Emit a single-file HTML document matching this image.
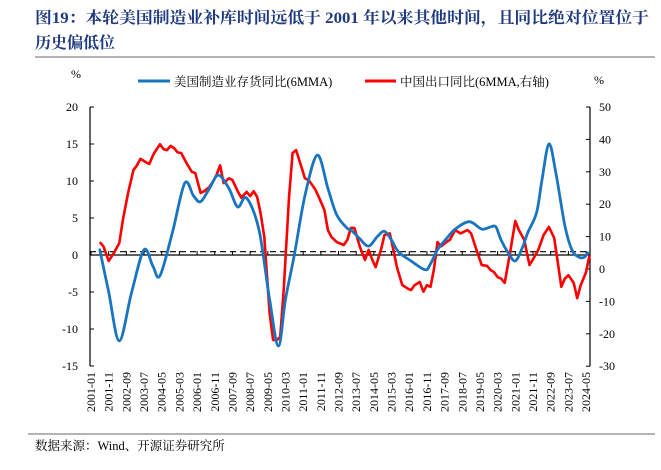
<!DOCTYPE html>
<html><head><meta charset="utf-8"><style>
body{margin:0;background:#fff;}
svg{display:block;font-family:"Liberation Serif","Noto Serif CJK SC",serif;}
</style></head><body>
<svg id="chart" width="661" height="470" viewBox="0 0 661 470" xmlns="http://www.w3.org/2000/svg">
<text x="35" y="23" font-size="16" font-weight="bold" fill="#1f3a80" textLength="614" lengthAdjust="spacingAndGlyphs">图19：本轮美国制造业补库时间远低于 2001 年以来其他时间，且同比绝对位置位于</text>
<text x="35" y="48" font-size="16" font-weight="bold" fill="#1f3a80">历史偏低位</text>
<line x1="35" y1="57" x2="655" y2="57" stroke="#888" stroke-width="1.2"/>
<text x="76" y="78" font-size="12" text-anchor="middle">%</text>
<text x="599" y="84" font-size="12" text-anchor="middle">%</text>
<g>
<line x1="138" y1="81" x2="170" y2="81" stroke="#1a75c0" stroke-width="3"/>
<text x="174" y="86" font-size="12.5">美国制造业存货同比(6MMA)</text>
<line x1="365" y1="81" x2="396" y2="81" stroke="#ff0000" stroke-width="3"/>
<text x="400" y="86" font-size="12.5">中国出口同比(6MMA,右轴)</text>
</g>
<g id="axes"></g>
<g id="series"></g>
<line x1="28" y1="434" x2="655" y2="434" stroke="#888" stroke-width="1.2"/>
<text x="35" y="450" font-size="12.5">数据来源：Wind、开源证券研究所</text>
</svg>
<script>
const leftTicks=[20,15,10,5,0,-5,-10,-15];
const rightTicks=[50,40,30,20,10,0,-10,-20,-30];
const xLabels=["2001-01","2001-11","2002-09","2003-07","2004-05","2005-03","2006-01","2006-11","2007-09","2008-07","2009-05","2010-03","2011-01","2011-11","2012-09","2013-07","2014-05","2015-03","2016-01","2016-11","2017-09","2018-07","2019-05","2020-03","2021-01","2021-11","2022-09","2023-07","2024-05"];
const usMonths=[5,10,16,23,30,35,39,46,53,58,62,67,72,78,83,88,95,101,106,110,115,121,128,134,139,145,147,152,157,162,166,170,174,181,189,192,196,201,206,214,221,226,229,232,236,240,244,247,252,255,259,263,268,272,276,279,281];
const usValues=[0.7,-5,-11.6,-5,0.7,-1.5,-2.8,3,9.7,8,7.2,9,10.8,9,6.5,7.7,3.4,-6,-12.3,-6,0,8,13.5,9,5.4,3.6,3.4,2.2,1.2,2.5,3.2,2,0.4,-0.8,-2.0,-1.2,0.7,2.2,3.5,4.5,3.5,3.8,3.8,2,0.3,-0.8,1,3.0,5.7,10,15.0,11,4,0.7,-0.3,-0.3,0.3];
const cnMonths=[5,7,10,13,16,18,21,24,26,28,31,33,35,36,39,41,43,45,47,49,51,54,57,59,62,64,67,69,71,73,75,78,80,83,85,88,90,92,94,96,98,101,103,105,107,109,112,114,116,119,121,123,125,127,129,132,134,136,139,143,145,147,149,152,155,157,159,161,164,166,169,171,173,176,179,181,183,186,188,190,192,194,196,198,201,203,206,209,211,213,215,218,221,224,226,228,230,232,234,237,240,242,245,248,250,253,256,259,262,264,266,268,270,273,275,277,280,282];
const cnValues=[8.3,7,2.5,5,8,15,23.5,30.5,32,34,33,32.4,35,36,38.5,37,36.7,38,37.3,36,35.8,32.7,30,29.6,23.5,24,25.3,27,29,32,26.5,28,27.5,24,22,23.8,22.5,24,22.2,17,9.9,-13.6,-21.9,-22,-21,-6.5,22,35.8,36.7,31.5,28,27.5,26,24.4,22,18.2,12,9.9,8.3,7.4,9,12.7,12.7,7,2.8,5.9,3,0.6,6,10.5,11,6,0.6,-4.9,-6,-6.5,-5,-4,-7,-5,-5.5,0,8.3,7,8.3,9,12,11,11.5,12,11,6,1.2,1,-0.3,-1,-2.5,-3,-4.3,4.9,14.8,12,9,1.2,3,5.9,10.5,13,9.6,2,-5.5,-3,-1.9,-4.3,-9,-5,-1,4.3];

const NS="http://www.w3.org/2000/svg";
const X0=91,XPM=1.768,PL=90,PR=590;
const x=m=>X0+m*XPM;
const yL=v=>255-v*7.4;
const yR=v=>269-v*3.24;
function mk(tag,attrs,parent){const e=document.createElementNS(NS,tag);for(const k in attrs)e.setAttribute(k,attrs[k]);parent.appendChild(e);return e;}
function smooth(pts){
  let d='M'+pts[0][0].toFixed(1)+','+pts[0][1].toFixed(1);
  for(let i=0;i<pts.length-1;i++){
    const p0=pts[Math.max(i-1,0)],p1=pts[i],p2=pts[i+1],p3=pts[Math.min(i+2,pts.length-1)];
    const c1x=p1[0]+(p2[0]-p0[0])/6,c1y=p1[1]+(p2[1]-p0[1])/6;
    const c2x=p2[0]-(p3[0]-p1[0])/6,c2y=p2[1]-(p3[1]-p1[1])/6;
    d+=' C'+c1x.toFixed(1)+','+c1y.toFixed(1)+' '+c2x.toFixed(1)+','+c2y.toFixed(1)+' '+p2[0].toFixed(1)+','+p2[1].toFixed(1);
  }
  return d;
}
const axes=document.getElementById('axes');
const ser=document.getElementById('series');

let e=mk('line',{x1:PL,y1:yL(20),x2:PL,y2:yL(-15),stroke:'#000','stroke-width':1.2},axes);


e=mk('line',{x1:PR,y1:yR(50),x2:PR,y2:yR(-30),stroke:'#000','stroke-width':1.2},axes);


e=mk('line',{x1:PL,y1:yL(0),x2:PR,y2:yL(0),stroke:'#000','stroke-width':1.2},axes);


e=mk('line',{x1:PL,y1:yL(0.45),x2:PR,y2:yL(0.45),stroke:'#000','stroke-width':1.2,'stroke-dasharray':'6,4'},axes);



leftTicks.forEach(v=>{
  const t=mk('line',{x1:PL,y1:yL(v),x2:PL+4,y2:yL(v),stroke:'#000','stroke-width':1},axes);
  
  
  const l=mk('text',{x:78,y:yL(v)+4,'font-size':12,'text-anchor':'end'},axes);
  l.textContent=v;
  
  
});
rightTicks.forEach(v=>{
  const t=mk('line',{x1:PR-4,y1:yR(v),x2:PR,y2:yR(v),stroke:'#000','stroke-width':1},axes);
  
  
  const l=mk('text',{x:599,y:yR(v)+4,'font-size':12,'text-anchor':'start'},axes);
  l.textContent=v;
  
  
});
xLabels.forEach((s,i)=>{
  const xx=x(i*10);
  const t=mk('line',{x1:xx,y1:yL(0),x2:xx,y2:yL(0)-4,stroke:'#000','stroke-width':1},axes);
  
  
  const l=mk('text',{x:0,y:0,'font-size':12,'text-anchor':'end',transform:`translate(${xx+4},372) rotate(-90)`},axes);
  l.textContent=s;
  
  
});

const cnPts=cnMonths.map((m,i)=>x(m).toFixed(1)+','+yR(cnValues[i]).toFixed(1)).join(' ');
e=mk('polyline',{points:cnPts,fill:'none',stroke:'#ff0000','stroke-width':2.6,'stroke-linejoin':'round'},ser);


const usPts=usMonths.map((m,i)=>[x(m),yL(usValues[i])]);
e=mk('path',{d:smooth(usPts),fill:'none',stroke:'#1a75c0','stroke-width':2.8,'stroke-linejoin':'round','stroke-linecap':'round'},ser);


</script>
</body></html>
